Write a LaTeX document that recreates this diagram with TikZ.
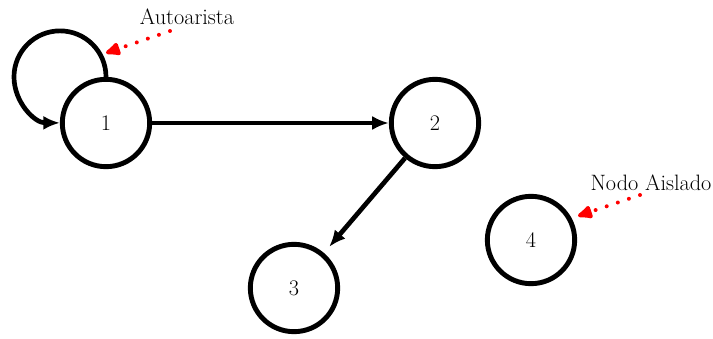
\documentclass[tikz,border=0pt]{standalone}
\usetikzlibrary{arrows.meta}
\begin{document}
\begin{tikzpicture}[x=0.03cm,y=-0.03cm,
  vert/.style={circle,draw=black,line width=4.2pt,minimum size=2.62cm,inner sep=0pt,font=\fontsize{19}{22}\selectfont},
  edge/.style={line width=4pt,-{Latex[length=0.5cm,width=0.42cm]}},
  note/.style={font=\fontsize{19}{22}\selectfont},
  pointer/.style={red,line width=3.4pt,line cap=round,dash pattern=on 0pt off 10pt,
    -{Latex[length=0.58cm,width=0.48cm,round=false]}}]
\useasboundingbox (0,0) rectangle (713,338);
\node[vert] (n1) at (106,123) {1};
\node[vert] (n2) at (435,123) {2};
\node[vert] (n3) at (294,288) {3};
\node[vert] (n4) at (531,240) {4};
\node[note] (la) at (187,17) {Autoarista};
\node[note] (lb) at (651,183) {Nodo Aislado};
\coordinate (ta) at (106,53);
\coordinate (tb) at (578,216);
\coordinate (sa) at (170,31);
\coordinate (sb) at (640,195);
\draw[edge] (n1.north) arc[start angle=0,end angle=270,radius=1.38cm];
\draw[edge] (n1) -- (n2);
\draw[edge,shorten >=0.24cm] (n2) -- (n3);
\draw[pointer] (sa) -- (ta);
\draw[pointer] (sb) -- (tb);
\end{tikzpicture}
\end{document}
